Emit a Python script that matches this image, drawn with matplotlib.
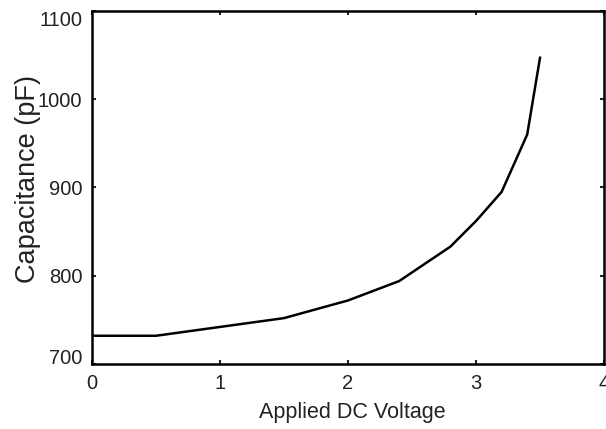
import matplotlib.pyplot as plt

# capacitance vs applied DC voltage
voltage = [0, 0.5, 1.0, 1.5, 2.0, 2.4, 2.8, 3.0, 3.2, 3.4, 3.5]
capacitance = [732, 732, 742, 752, 772, 794, 833, 862, 895, 960, 1047]

x_ticks = [0, 1, 2, 3, 4]
y_ticks = [700, 800, 900, 1000, 1100]

plt.rcParams['font.family'] = ['Liberation Sans', 'DejaVu Sans']

fig = plt.figure(figsize=(6.06, 4.29), dpi=100)
ax = fig.add_axes([0.1518, 0.1515, 0.8449, 0.8229])

ax.plot(voltage, capacitance, 'k-', lw=1.8)

ax.set_xlim(0, 4)
ax.set_ylim(700, 1100)
ax.set_xticks(x_ticks)
ax.set_yticks(y_ticks)
ax.tick_params(direction='in', length=3, width=1.5, labelsize=14.5, pad=7,
               top=True, right=True, colors='#222222')
for s in ax.spines.values():
    s.set_linewidth(1.8)

# end labels sit inside the axis range, like the original
ylabels = ax.get_yticklabels()
ylabels[0].set_va('baseline')
ylabels[-1].set_va('top')

ax.set_xlabel("Applied DC Voltage", fontsize=15.5, color='#222222', labelpad=7)
ax.xaxis.label.set_x(0.508)
ax.set_ylabel("Capacitance (pF)", fontsize=19.5, color='#222222', labelpad=-2)
ax.yaxis.label.set_y(0.523)

fig.savefig("out.png", dpi=100)
